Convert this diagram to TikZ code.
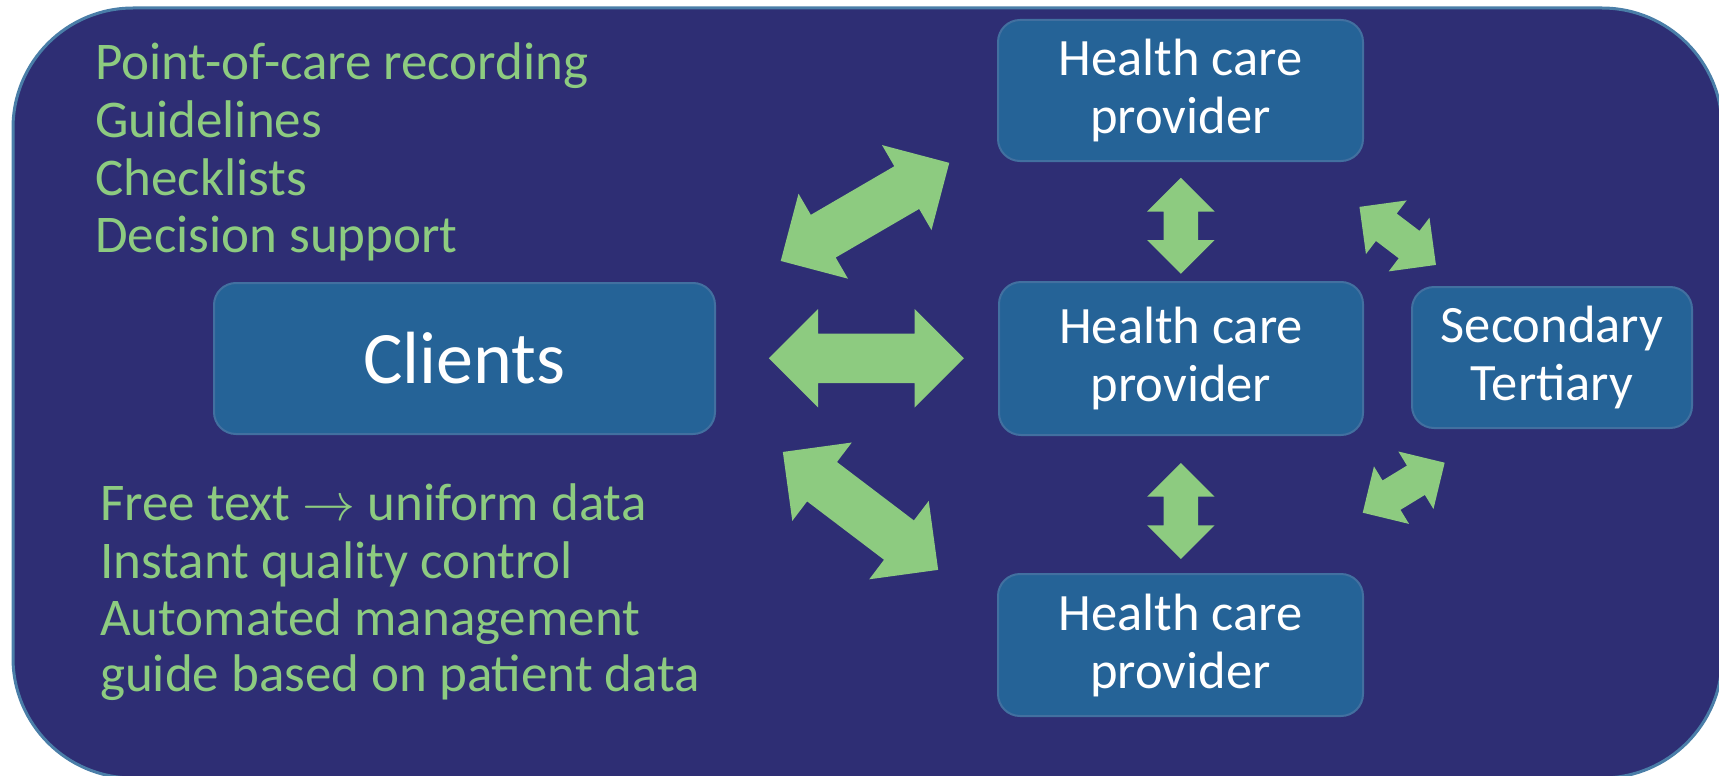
\RequirePackage{fix-cm}
\documentclass[tikz,border=0pt]{standalone}
\usepackage{fontspec}
\setmainfont{Carlito}
\usepackage{tikz}
\usetikzlibrary{shapes.arrows}
\definecolor{slideblue}{RGB}{46,46,116}
\definecolor{slideline}{RGB}{74,126,168}
\definecolor{boxblue}{RGB}{37,99,151}
\definecolor{boxline}{RGB}{66,112,160}
\definecolor{leafgreen}{RGB}{141,203,128}
\tikzstyle{box}=[rectangle, rounded corners=22pt
,draw=boxline, line width=2pt
,fill=boxblue, text=white
,align=center, inner sep=0pt
,font=\fontsize{52.5}{58}\selectfont
]
\tikzstyle{bigarrow}=[double arrow, fill=leafgreen
,inner xsep=0pt, inner ysep=24.5pt
,double arrow head extend=24.5pt
,minimum height=195pt
]
\tikzstyle{smallarrow}=[double arrow, fill=leafgreen
,inner xsep=0pt, inner ysep=17pt
,double arrow head extend=16.5pt
,minimum height=96pt
]
\tikzstyle{note}=[anchor=base west, inner sep=0pt, text=leafgreen
,font=\fontsize{53}{57}\selectfont]

\begin{document}
\begin{tikzpicture}[x=1pt,y=-1pt]
    \useasboundingbox (0,0) rectangle (1719,776);
    % the slide panel
    \draw[fill=slideblue, draw=slideline, line width=3pt, rounded corners=120pt] (13,8) rectangle (1722,778);

    % First we draw the boxes
    \node[box, minimum width=501pt, minimum height=151pt, font=\fontsize{74}{80}\selectfont] (clients) at (464.5,358.5) {Clients};
    \node[box, minimum width=365pt, minimum height=141pt] (hcp1) at (1180.5,90.5) {Health care\\provider};
    \node[box, minimum width=364pt, minimum height=153pt] (hcp2) at (1181,358.5) {Health care\\provider};
    \node[box, minimum width=365pt, minimum height=142pt] (hcp3) at (1180.5,645) {Health care\\provider};
    \node[box, minimum width=280pt, minimum height=141pt] (care) at (1552,357.5) {Secondary\\Tertiary};

    % the notes next to the clients
    \foreach \y/\txt [count=\i] in {80/Point-of-care recording, 137.5/Guidelines, 195/Checklists, 252.5/Decision support}
        \node[note] (tool\i) at (95,\y) {\txt};
    \foreach \y/\txt [count=\i] in {520.7/Free text $\rightarrow$ uniform data, 578/Instant quality control, 635/Automated management, 691.7/guide based on patient data}
        \node[note] (gain\i) at (100,\y) {\txt};

    % Then the two-way arrows
    \foreach \pos/\ang [count=\i] in {{(865,211.9)/30.2}, {(866.3,358.3)/0}, {(860.5,510.9)/-37.2}}
        \node[bigarrow, rotate=\ang] (link\i) at \pos {};
    \foreach \pos/\ang [count=\i] in {{(1180.8,225.8)/90}, {(1180.8,511)/90}, {(1397.7,235.9)/-37.2}, {(1403.7,487.7)/31.4}}
        \node[smallarrow, rotate=\ang] (step\i) at \pos {};

\end{tikzpicture}
\end{document}
